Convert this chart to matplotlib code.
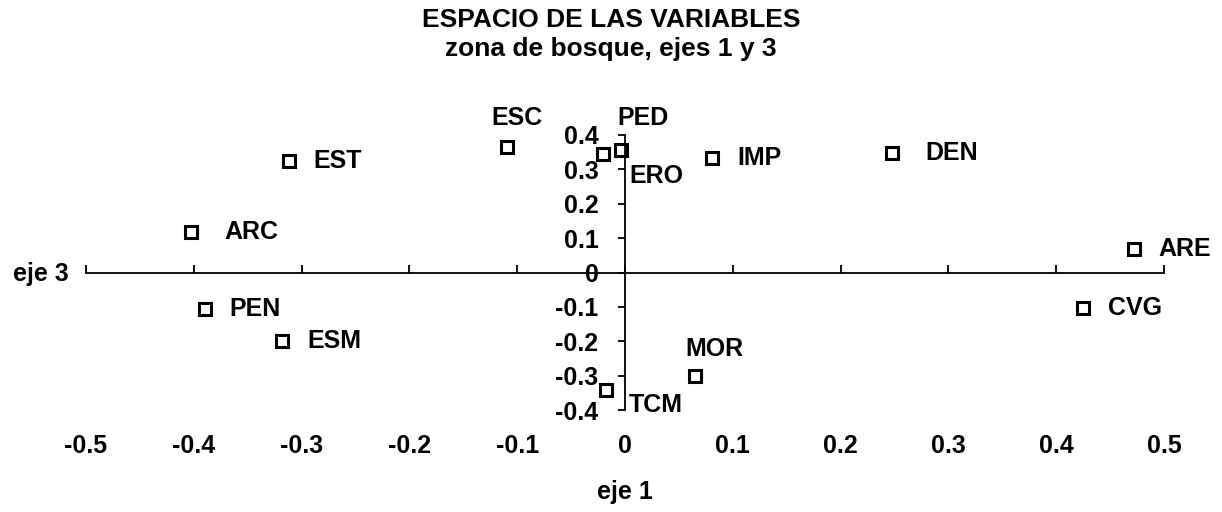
import matplotlib
matplotlib.use('Agg')
import matplotlib.pyplot as plt
import numpy as np

# coordenadas de las variables en los ejes 1 y 3
variables = ['EST', 'ARC', 'PEN', 'ESM', 'ESC', 'ERO', 'PED', 'IMP',
             'MOR', 'TCM', 'DEN', 'ARE', 'CVG']
eje1 = [-0.312, -0.403, -0.390, -0.318, -0.109, -0.020, -0.004, 0.081,
        0.065, -0.018, 0.248, 0.472, 0.425]
eje3 = [0.323, 0.119, -0.106, -0.198, 0.366, 0.345, 0.357, 0.334,
        -0.302, -0.341, 0.347, 0.068, -0.104]

x_ticks = np.round(np.arange(-0.5, 0.51, 0.1), 1)
y_ticks = np.round(np.arange(-0.4, 0.41, 0.1), 1)

# desplazamiento de cada etiqueta respecto a su marcador (puntos)
offsets = {
    'ARC': (24, 0, 'left'),
    'DEN': (24, 0, 'left'),
    'ESC': (7, 21, 'center'),
    'PED': (16, 23, 'center'),
    'ERO': (19, -16, 'left'),
    'MOR': (14, 20, 'center'),
    'TCM': (17, -11, 'left'),
}

plt.rcParams['font.family'] = ['Liberation Sans', 'DejaVu Sans']
plt.rcParams['font.weight'] = 'bold'
plt.rcParams['font.size'] = 18

fig = plt.figure(figsize=(12.22, 5.12), dpi=100)
ax = fig.add_axes([86 / 1222, 102 / 512, 1078 / 1222, 275 / 512])

ax.plot(eje1, eje3, linestyle='none', marker='s', markersize=8,
        markerfacecolor='white', markeredgecolor='black', markeredgewidth=2.2)

for name, x, y in zip(variables, eje1, eje3):
    dx, dy, ha = offsets.get(name, (18, 0, 'left'))
    ax.annotate(name, (x, y), xytext=(dx, dy), textcoords='offset points',
                ha=ha, va='center', fontsize=18, fontweight='bold')

ax.set_xlim(-0.5, 0.5)
ax.set_ylim(-0.4, 0.4)
ax.spines['top'].set_visible(False)
ax.spines['right'].set_visible(False)
ax.spines['left'].set_position(('data', 0))
ax.spines['bottom'].set_position(('data', 0))
ax.spines['left'].set_linewidth(1.3)
ax.spines['bottom'].set_linewidth(1.3)

fmt = lambda v, pos: '0' if abs(v) < 1e-9 else f'{v:g}'
ax.set_xticks(x_ticks)
ax.set_yticks(y_ticks)
ax.xaxis.set_major_formatter(plt.FuncFormatter(fmt))
ax.yaxis.set_major_formatter(plt.FuncFormatter(fmt))
ax.tick_params(axis='x', direction='in', length=6, width=1.3, pad=116)
ax.tick_params(axis='y', direction='out', length=5, width=1.3, pad=14)

fig.text(0.5, 1 - 20 / 512, 'ESPACIO DE LAS VARIABLES', ha='center', va='center',
         fontsize=19, fontweight='bold')
fig.text(0.5, 1 - 49 / 512, 'zona de bosque, ejes 1 y 3', ha='center', va='center',
         fontsize=19, fontweight='bold')
fig.text(41 / 1222, 1 - 274 / 512, 'eje 3', ha='center', va='center',
         fontsize=18, fontweight='bold')
fig.text(625 / 1222, 1 - 492 / 512, 'eje 1', ha='center', va='center',
         fontsize=18, fontweight='bold')

fig.savefig('out.png', dpi=100)
